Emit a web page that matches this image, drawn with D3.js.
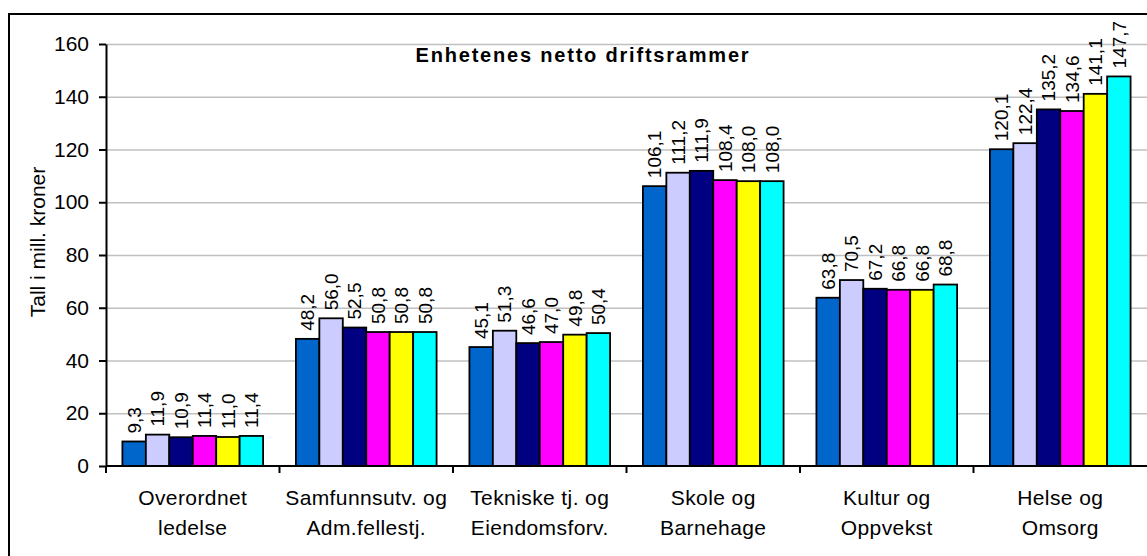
<!DOCTYPE html>
<html>
<head>
<meta charset="utf-8">
<script src="https://cdn.jsdelivr.net/npm/d3@7"></script>
<style>
body { margin: 0; background: #fff; }
svg { display: block; font-family: Arial, "Liberation Sans", sans-serif; }
</style>
</head>
<body>
<svg id="chart" width="1147" height="556"></svg>
<script>
// data
var categories = ["Overordnet ledelse", "Samfunnsutv. og Adm.fellestj.", "Tekniske tj. og Eiendomsforv.",
    "Skole og Barnehage", "Kultur og Oppvekst", "Helse og Omsorg"];
var categoryLines = [["Overordnet", "ledelse"], ["Samfunnsutv. og", "Adm.fellestj."], ["Tekniske tj. og", "Eiendomsforv."],
    ["Skole og", "Barnehage"], ["Kultur og", "Oppvekst"], ["Helse og", "Omsorg"]];
var series1 = [9.3, 48.2, 45.1, 106.1, 63.8, 120.1];
var series2 = [11.9, 56.0, 51.3, 111.2, 70.5, 122.4];
var series3 = [10.9, 52.5, 46.6, 111.9, 67.2, 135.2];
var series4 = [11.4, 50.8, 47.0, 108.4, 66.8, 134.6];
var series5 = [11.0, 50.8, 49.8, 108.0, 66.8, 141.1];
var series6 = [11.4, 50.8, 50.4, 108.0, 68.8, 147.7];
var yTicks = [0, 20, 40, 60, 80, 100, 120, 140, 160];

var seriesList = [series1, series2, series3, series4, series5, series6];
var colors = ["#0066cc", "#ccccff", "#000080", "#ff00ff", "#ffff00", "#00ffff"];

var W = 1147, H = 556;
var plotLeft = 106, plotRight = 1147, plotTop = 44, plotBottom = 466;

var svg = d3.select("#chart");
svg.append("rect").attr("width", W).attr("height", H).attr("fill", "#fff");

var x0 = d3.scaleBand().domain(categories).range([plotLeft, plotRight]);
var x1 = d3.scaleBand().domain(d3.range(seriesList.length)).range([0, x0.bandwidth()]).paddingOuter(0.7);
var y = d3.scaleLinear().domain([0, 160]).range([plotBottom, plotTop]);

var fmt = function (v) { return d3.format(".1f")(v).replace(".", ","); };

// gridlines
svg.append("g")
    .attr("transform", "translate(" + plotLeft + ",0)")
    .call(d3.axisLeft(y).tickValues(yTicks.slice(1)).tickSize(-(plotRight - plotLeft)).tickFormat(""))
    .call(function (g) {
        g.select(".domain").remove();
        g.selectAll("line").attr("stroke", "#c0c0c0").attr("stroke-width", 1.4);
    });

// bars
var groups = svg.append("g").selectAll("g")
    .data(categories)
    .join("g")
    .attr("transform", function (c) { return "translate(" + x0(c) + ",0)"; });

groups.selectAll("rect")
    .data(function (c, ci) { return seriesList.map(function (s, si) { return { si: si, v: s[ci] }; }); })
    .join("rect")
    .attr("x", function (d) { return x1(d.si); })
    .attr("y", function (d) { return y(d.v); })
    .attr("width", x1.bandwidth())
    .attr("height", function (d) { return y(0) - y(d.v); })
    .attr("fill", function (d) { return colors[d.si]; })
    .attr("stroke", "#000")
    .attr("stroke-width", 1.8);

groups.selectAll("text")
    .data(function (c, ci) { return seriesList.map(function (s, si) { return { si: si, v: s[ci] }; }); })
    .join("text")
    .attr("transform", function (d) {
        return "translate(" + (x1(d.si) + x1.bandwidth() / 2) + "," + (y(d.v) - 8) + ") rotate(-90)";
    })
    .attr("dy", "0.36em")
    .style("font-size", "19px")
    .attr("fill", "#000")
    .text(function (d) { return fmt(d.v); });

// y axis
svg.append("g")
    .attr("transform", "translate(" + plotLeft + ",0)")
    .call(d3.axisLeft(y).tickValues(yTicks).tickSize(7).tickSizeOuter(0).tickPadding(10))
    .call(function (g) {
        g.select(".domain").attr("stroke", "#000").attr("stroke-width", 2);
        g.selectAll("line").attr("stroke", "#000").attr("stroke-width", 2);
        g.selectAll("text").style("font-size", "21px").attr("fill", "#000")
            .style("font-family", "Arial, 'Liberation Sans', sans-serif");
    });

// x axis
var xAxis = svg.append("g");
xAxis.append("line")
    .attr("x1", plotLeft).attr("x2", plotRight).attr("y1", y(0)).attr("y2", y(0))
    .attr("stroke", "#000").attr("stroke-width", 2);
xAxis.selectAll("line.tick")
    .data(categories)
    .join("line")
    .attr("class", "tick")
    .attr("x1", function (c) { return x0(c); })
    .attr("x2", function (c) { return x0(c); })
    .attr("y1", y(0)).attr("y2", y(0) + 7)
    .attr("stroke", "#000").attr("stroke-width", 2);

var catText = xAxis.selectAll("text")
    .data(categories)
    .join("text")
    .attr("text-anchor", "middle")
    .style("font-size", "21px")
    .style("letter-spacing", "0.4px")
    .attr("fill", "#000");
catText.selectAll("tspan")
    .data(function (c, i) { return categoryLines[i]; })
    .join("tspan")
    .attr("x", function () { var c = d3.select(this.parentNode).datum(); return x0(c) + x0.bandwidth() / 2; })
    .attr("y", function (d, i) { return 505 + i * 29.5; })
    .text(function (d) { return d; });

// y axis title
svg.append("text")
    .attr("transform", "translate(45,242) rotate(-90)")
    .attr("text-anchor", "middle")
    .style("font-size", "21px")
    .attr("fill", "#000")
    .text("Tall i mill. kroner");

// chart title
svg.append("text")
    .attr("x", 583)
    .attr("y", 62)
    .attr("text-anchor", "middle")
    .style("font-size", "20px")
    .style("font-weight", "bold")
    .style("letter-spacing", "1.8px")
    .attr("fill", "#000")
    .text("Enhetenes netto driftsrammer");

// outer border (chart area is cut off at right and bottom)
svg.append("path")
    .attr("d", "M9," + H + "V14H" + W)
    .attr("fill", "none")
    .attr("stroke", "#000")
    .attr("stroke-width", 2);
</script>
</body>
</html>
